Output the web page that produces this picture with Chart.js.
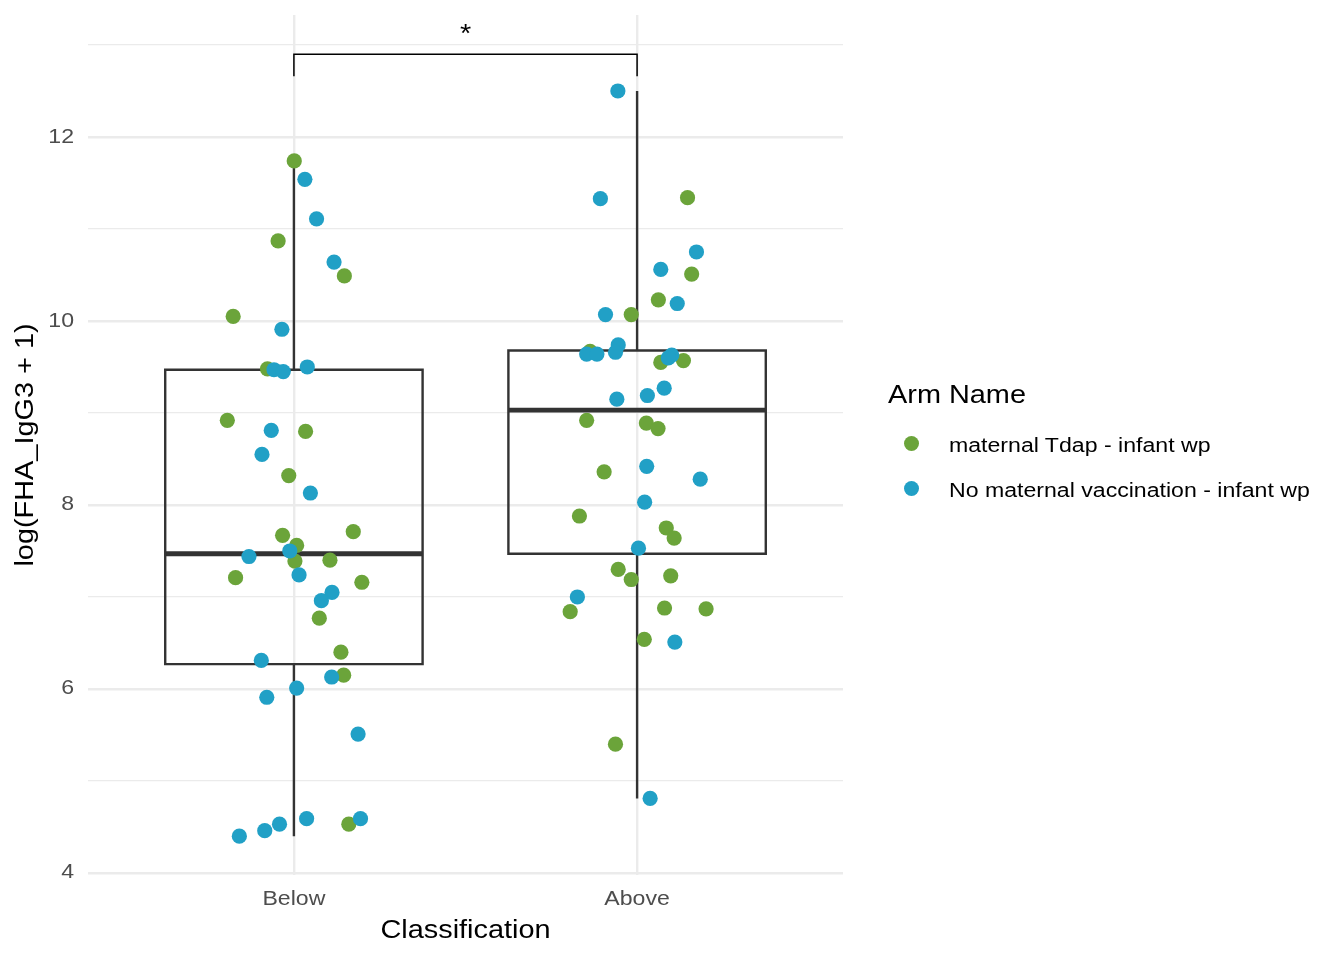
<!DOCTYPE html>
<html>
<head>
<meta charset="utf-8">
<script src="https://cdn.jsdelivr.net/npm/chart.js@4.4.1/dist/chart.umd.min.js"></script>
<style>
  html, body { margin: 0; padding: 0; background: #ffffff; }
  #wrap { position: relative; width: 1344px; height: 960px; overflow: hidden; }
  #legend { position: absolute; left: 0; top: 0; font-family: "Liberation Sans", Arial, Helvetica, sans-serif; color: #000; }
  .lg-title { position: absolute; font-size: 25px; line-height: 25px; white-space: nowrap; transform-origin: 0 50%; }
  .lg-dot { position: absolute; width: 15px; height: 15px; border-radius: 50%; }
  .lg-text { position: absolute; font-size: 20px; line-height: 20px; white-space: nowrap; transform-origin: 0 50%; }
</style>
</head>
<body>
<div id="wrap">
  <canvas id="chart" width="1344" height="960"></canvas>
  <div id="legend"></div>
</div>
<script>
// ---------------- data ----------------
const categories = ['Below', 'Above'];
const seriesNames = ['maternal Tdap - infant wp', 'No maternal vaccination - infant wp'];
const seriesColors = ['#6BA43A', '#21A0C6'];
const legendTitle = 'Arm Name';
const xTitle = 'Classification';
const yTitle = 'log(FHA_IgG3 + 1)';

// maternal Tdap - infant wp
const tdapBelowValues = [11.74, 10.87, 10.49, 10.05, 9.48, 8.92, 8.80, 8.32, 7.71, 7.67, 7.56, 7.40, 7.39, 7.21, 7.16, 6.77, 6.40, 6.15, 4.53];
const tdapBelowJitter = [0.001, -0.046, 0.147, -0.177, -0.077, -0.194, 0.034, -0.015, 0.173, -0.033, 0.008, 0.105, 0.003, -0.170, 0.198, 0.074, 0.137, 0.145, 0.160];
const tdapAboveValues = [11.34, 10.51, 10.23, 10.07, 9.67, 9.57, 9.55, 8.92, 8.89, 8.83, 8.36, 7.88, 7.75, 7.64, 7.30, 7.23, 7.19, 6.88, 6.87, 6.84, 6.54, 5.40];
const tdapAboveJitter = [0.147, 0.159, 0.062, -0.017, -0.137, 0.135, 0.069, -0.147, 0.027, 0.061, -0.096, -0.168, 0.085, 0.108, -0.055, 0.098, -0.017, 0.080, 0.201, -0.195, 0.021, -0.063];

// No maternal vaccination - infant wp
const noVaxBelowValues = [11.54, 11.11, 10.64, 9.91, 9.50, 9.47, 9.45, 8.81, 8.55, 8.13, 7.50, 7.44, 7.24, 7.05, 6.96, 6.31, 6.13, 6.01, 5.91, 5.51, 4.59, 4.59, 4.53, 4.46, 4.40];
const noVaxBelowJitter = [0.032, 0.066, 0.117, -0.035, 0.039, -0.058, -0.031, -0.066, -0.093, 0.048, -0.012, -0.131, 0.015, 0.111, 0.080, -0.095, 0.110, 0.008, -0.079, 0.187, 0.037, 0.194, -0.042, -0.085, -0.159];
const noVaxAboveValues = [12.50, 11.33, 10.75, 10.56, 10.19, 10.07, 9.74, 9.66, 9.64, 9.64, 9.63, 9.60, 9.27, 9.19, 9.15, 8.42, 8.28, 8.03, 7.53, 7.00, 6.51, 4.81];
const noVaxAboveJitter = [-0.056, -0.107, 0.173, 0.069, 0.117, -0.092, -0.055, -0.063, -0.147, -0.117, 0.101, 0.091, 0.079, 0.030, -0.059, 0.028, 0.184, 0.022, 0.004, -0.174, 0.110, 0.038];

// boxplot statistics per category
const boxQ1 = [6.27, 7.47];
const boxMedian = [7.47, 9.03];
const boxQ3 = [9.47, 9.68];
const whiskerLow = [4.40, 4.81];
const whiskerHigh = [11.74, 12.50];

// significance annotation
const signifPair = [1, 2];
const signifY = 12.90;
const signifTipY = 12.66;
const signifLabel = '*';

// axis ticks
const yMajorTicks = [4, 6, 8, 10, 12];
const yMinorTicks = [5, 7, 9, 11, 13];

// ---------------- chart ----------------
const FONT = '"Liberation Sans", Arial, Helvetica, sans-serif';
const TEXT_STRETCH = 1.155;   // the reference's typeface is wider than Liberation Sans
const BOX_HALF = 0.375;
const BOX_COLOR = '#333333';
const POINT_R = 7.6;

// widen canvas text horizontally (along the writing direction)
const canvas = document.getElementById('chart');
const c2d = canvas.getContext('2d');
const _fillText = c2d.fillText.bind(c2d);
const _measureText = c2d.measureText.bind(c2d);
c2d.fillText = function (text, x, y) {
  this.save();
  this.translate(x, y);
  this.scale(TEXT_STRETCH, 1);
  _fillText(text, 0, 0);
  this.restore();
};
c2d.measureText = function (text) {
  const m = _measureText(text);
  return {
    width: m.width * TEXT_STRETCH,
    actualBoundingBoxLeft: m.actualBoundingBoxLeft * TEXT_STRETCH,
    actualBoundingBoxRight: m.actualBoundingBoxRight * TEXT_STRETCH,
    actualBoundingBoxAscent: m.actualBoundingBoxAscent,
    actualBoundingBoxDescent: m.actualBoundingBoxDescent,
    fontBoundingBoxAscent: m.fontBoundingBoxAscent,
    fontBoundingBoxDescent: m.fontBoundingBoxDescent
  };
};

function jittered(values, jitter, catPos) {
  return values.map((v, i) => ({ x: catPos + jitter[i], y: v }));
}

const datasets = [];
datasets.push({
  label: seriesNames[0],
  data: jittered(tdapBelowValues, tdapBelowJitter, 1).concat(jittered(tdapAboveValues, tdapAboveJitter, 2)),
  backgroundColor: seriesColors[0], borderColor: seriesColors[0],
  pointRadius: POINT_R, pointHoverRadius: POINT_R, pointBorderWidth: 0, order: 1
});
datasets.push({
  label: seriesNames[1],
  data: jittered(noVaxBelowValues, noVaxBelowJitter, 1).concat(jittered(noVaxAboveValues, noVaxAboveJitter, 2)),
  backgroundColor: seriesColors[1], borderColor: seriesColors[1],
  pointRadius: POINT_R, pointHoverRadius: POINT_R, pointBorderWidth: 0, order: 0
});

function lineSet(points, width, color) {
  return {
    label: '', data: points, showLine: true, pointRadius: 0, pointHoverRadius: 0,
    borderColor: color, borderWidth: width, backgroundColor: 'transparent', fill: false,
    tension: 0, borderJoinStyle: 'miter', borderCapStyle: 'butt', order: 2
  };
}

categories.forEach((c, i) => {
  const cx = i + 1;
  datasets.push(lineSet([
    { x: cx - BOX_HALF, y: boxQ1[i] }, { x: cx + BOX_HALF, y: boxQ1[i] },
    { x: cx + BOX_HALF, y: boxQ3[i] }, { x: cx - BOX_HALF, y: boxQ3[i] },
    { x: cx - BOX_HALF, y: boxQ1[i] }, { x: cx + BOX_HALF, y: boxQ1[i] }
  ], 2.4, BOX_COLOR));
  datasets.push(lineSet([{ x: cx - BOX_HALF, y: boxMedian[i] }, { x: cx + BOX_HALF, y: boxMedian[i] }], 4.8, BOX_COLOR));
  datasets.push(lineSet([{ x: cx, y: boxQ3[i] }, { x: cx, y: whiskerHigh[i] }], 2.4, BOX_COLOR));
  datasets.push(lineSet([{ x: cx, y: boxQ1[i] }, { x: cx, y: whiskerLow[i] }], 2.4, BOX_COLOR));
});

datasets.push(lineSet([
  { x: signifPair[0], y: signifTipY }, { x: signifPair[0], y: signifY },
  { x: signifPair[1], y: signifY }, { x: signifPair[1], y: signifTipY }
], 1.5, '#000000'));

const signifPlugin = {
  id: 'signifLabel',
  afterDatasetsDraw(chart) {
    const { ctx, scales } = chart;
    const px = scales.x.getPixelForValue((signifPair[0] + signifPair[1]) / 2);
    const py = scales.y.getPixelForValue(signifY);
    ctx.save();
    ctx.font = '25px ' + FONT;
    ctx.fillStyle = '#000000';
    ctx.textAlign = 'center';
    ctx.textBaseline = 'alphabetic';
    ctx.fillText(signifLabel, px, py - 12);
    ctx.restore();
  }
};

const chart = new Chart(canvas, {
  type: 'scatter',
  data: { datasets },
  plugins: [signifPlugin],
  options: {
    responsive: false,
    animation: false,
    events: [],
    layout: { padding: { left: 0, right: 501, top: 15, bottom: 0 } },
    plugins: { legend: { display: false }, tooltip: { enabled: false } },
    scales: {
      x: {
        type: 'linear', min: 0.4, max: 2.6,
        afterBuildTicks: (s) => { s.ticks = categories.map((c, i) => ({ value: i + 1 })); },
        afterFit: (s) => { s.height = 85; s.paddingLeft = 0; s.paddingRight = 0; },
        ticks: {
          padding: 12, color: '#4D4D4D', font: { family: FONT, size: 20 },
          maxRotation: 0, autoSkip: false,
          callback: (v) => categories[Math.round(v) - 1]
        },
        grid: { color: '#EBEBEB', lineWidth: 2.4, drawTicks: false },
        border: { display: false },
        title: { display: true, text: xTitle, color: '#000000', font: { family: FONT, size: 25 }, padding: { top: 0, bottom: 13.7 } }
      },
      y: {
        type: 'linear', min: 3.978, max: 13.326,
        afterBuildTicks: (s) => { s.ticks = yMajorTicks.concat(yMinorTicks).sort((a, b) => a - b).map(v => ({ value: v })); },
        afterFit: (s) => { s.width = 88; s.paddingTop = 0; s.paddingBottom = 0; },
        ticks: {
          padding: 14, color: '#4D4D4D', font: { family: FONT, size: 20 }, autoSkip: false,
          callback: (v) => yMajorTicks.includes(v) ? String(v) : ''
        },
        grid: {
          color: '#EBEBEB', drawTicks: false,
          lineWidth: (ctx) => (ctx.tick && yMajorTicks.includes(ctx.tick.value)) ? 2.4 : 1.2
        },
        border: { display: false },
        title: { display: true, text: yTitle, color: '#000000', font: { family: FONT, size: 25 }, padding: { top: 11, bottom: 0 } }
      }
    }
  }
});

// ---------------- legend (built from the chart's series) ----------------
(function buildLegend() {
  const lg = document.getElementById('legend');
  const t = document.createElement('div');
  t.className = 'lg-title';
  t.textContent = legendTitle;
  t.style.left = '888px';
  t.style.top = '382px';
  t.style.transform = 'scaleX(' + TEXT_STRETCH + ')';
  lg.appendChild(t);
  chart.data.datasets.slice(0, seriesNames.length).forEach((ds, i) => {
    const cy = 443 + i * 45.6;
    const d = document.createElement('div');
    d.className = 'lg-dot';
    d.style.background = ds.backgroundColor;
    d.style.left = (911 - 7.5) + 'px';
    d.style.top = (cy - 7.5) + 'px';
    lg.appendChild(d);
    const tx = document.createElement('div');
    tx.className = 'lg-text';
    tx.textContent = ds.label;
    tx.style.left = '949px';
    tx.style.top = (cy - 8.2) + 'px';
    tx.style.transform = 'scaleX(' + TEXT_STRETCH + ')';
    lg.appendChild(tx);
  });
})();
</script>
</body>
</html>
